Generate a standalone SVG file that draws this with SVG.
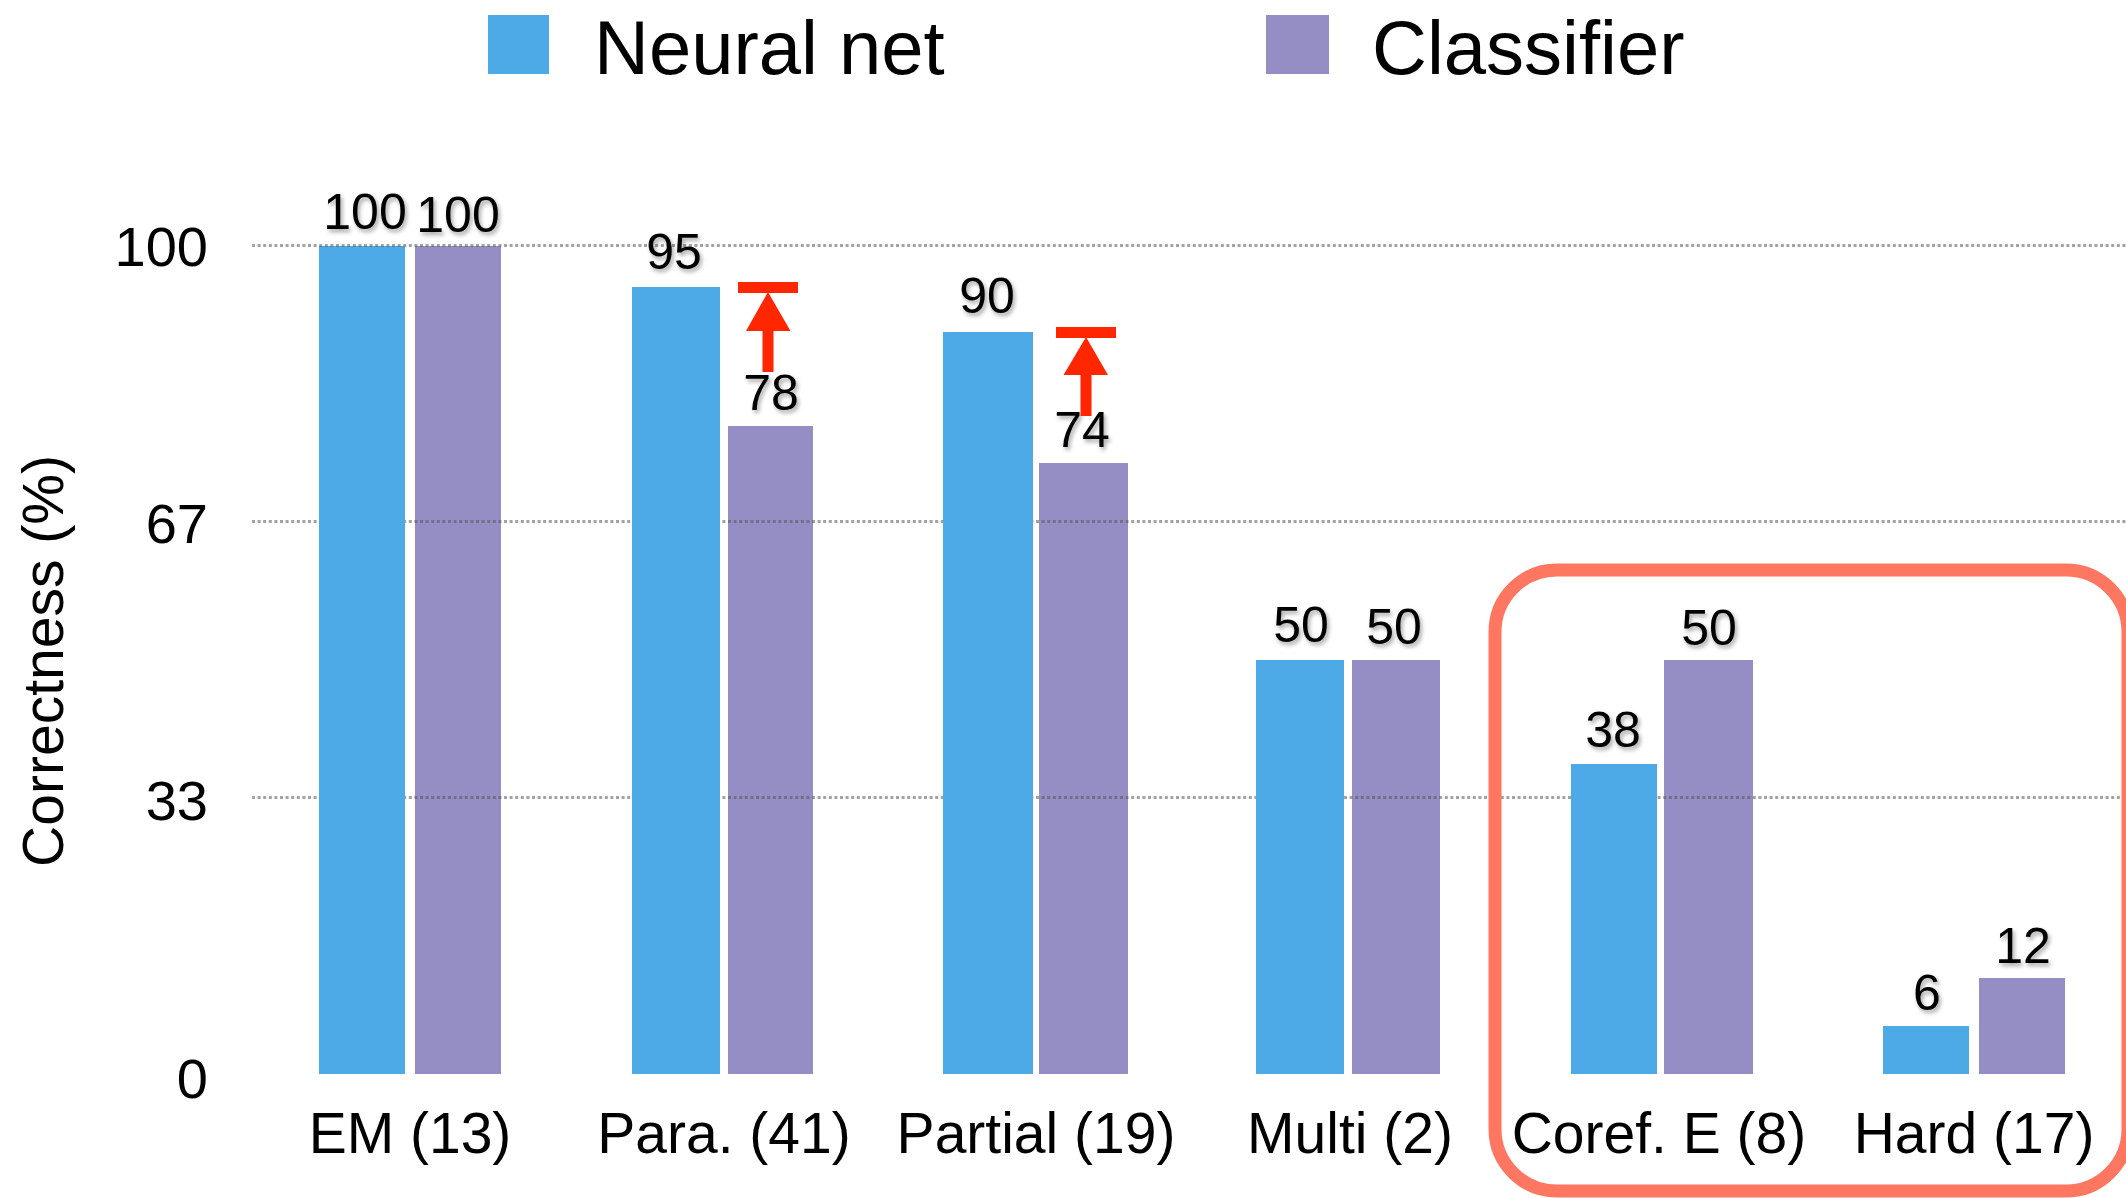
<svg xmlns="http://www.w3.org/2000/svg" width="2126" height="1198" viewBox="0 0 2126 1198">
  <style>
    .nn { fill: #4EAAE6; }
    .cl { fill: #958EC5; }
    .grid { stroke: #555; stroke-opacity: 0.55; stroke-width: 3; stroke-dasharray: 3 2.6; fill: none; }
    .txt { font-family: "Liberation Sans", Arial, sans-serif; fill: #000; }
    .tick { font-size: 56px; text-anchor: end; }
    .cat { font-size: 57px; text-anchor: middle; }
    .val { font-size: 50px; text-anchor: middle; filter: url(#shadow); }
    .leg { font-size: 76px; }
    .red { fill: #FF2600; }
  </style>
  <defs>
    <filter id="shadow" x="-30%" y="-30%" width="160%" height="160%">
      <feDropShadow dx="2" dy="3" stdDeviation="2" flood-color="#000" flood-opacity="0.35"/>
    </filter>
  </defs>
  <rect width="2126" height="1198" fill="#fff"/>

  <g id="legend">
    <rect class="nn" x="488" y="15" width="61" height="59"/>
    <text class="txt leg" x="594" y="74">Neural net</text>
    <rect class="cl" x="1266" y="15" width="63" height="59"/>
    <text class="txt leg" x="1372" y="74">Classifier</text>
  </g>

  <g id="y-axis">
    <text class="txt" font-size="57" text-anchor="middle" transform="translate(63,661) rotate(-90)">Correctness (%)</text>
    <text class="txt tick" x="208" y="266">100</text>
    <text class="txt tick" x="208" y="543">67</text>
    <text class="txt tick" x="208" y="820">33</text>
    <text class="txt tick" x="208" y="1098">0</text>
  </g>

  <g id="bars-nn">
    <rect class="nn" x="319" y="246" width="86" height="828"/>
    <rect class="nn" x="632" y="287" width="88" height="787"/>
    <rect class="nn" x="943" y="332" width="90" height="742"/>
    <rect class="nn" x="1256" y="660" width="88" height="414"/>
    <rect class="nn" x="1571" y="764" width="86" height="310"/>
    <rect class="nn" x="1883" y="1026" width="86" height="48"/>
  </g>
  <g id="bars-cl">
    <rect class="cl" x="415" y="246" width="86" height="828"/>
    <rect class="cl" x="728" y="426" width="85" height="648"/>
    <rect class="cl" x="1039" y="463" width="89" height="611"/>
    <rect class="cl" x="1352" y="660" width="88" height="414"/>
    <rect class="cl" x="1664" y="660" width="89" height="414"/>
    <rect class="cl" x="1979" y="978" width="86" height="96"/>
  </g>

  <g id="gridlines">
    <line class="grid" x1="252" y1="245.5" x2="2126" y2="245.5"/>
    <line class="grid" x1="252" y1="521.5" x2="2126" y2="521.5"/>
    <line class="grid" x1="252" y1="797.5" x2="2126" y2="797.5"/>
  </g>

  <g id="nn-front">
    <rect class="nn" x="319" y="247" width="86" height="827"/>
    <rect class="nn" x="632" y="287" width="88" height="787"/>
    <rect class="nn" x="943" y="332" width="90" height="742"/>
    <rect class="nn" x="1256" y="660" width="88" height="414"/>
    <rect class="nn" x="1571" y="764" width="86" height="310"/>
  </g>

  <g id="values">
    <text class="txt val" x="365" y="229">100</text>
    <text class="txt val" x="458" y="232">100</text>
    <text class="txt val" x="674" y="269">95</text>
    <text class="txt val" x="771" y="410">78</text>
    <text class="txt val" x="987" y="313">90</text>
    <text class="txt val" x="1082" y="447">74</text>
    <text class="txt val" x="1301" y="642">50</text>
    <text class="txt val" x="1394" y="644">50</text>
    <text class="txt val" x="1613" y="747">38</text>
    <text class="txt val" x="1709" y="645">50</text>
    <text class="txt val" x="1927" y="1010">6</text>
    <text class="txt val" x="2023" y="963">12</text>
  </g>

  <g id="categories">
    <text class="txt cat" x="410" y="1153">EM (13)</text>
    <text class="txt cat" x="724" y="1153">Para. (41)</text>
    <text class="txt cat" x="1036" y="1153">Partial (19)</text>
    <text class="txt cat" x="1350" y="1153">Multi (2)</text>
    <text class="txt cat" x="1659" y="1153">Coref. E (8)</text>
    <text class="txt cat" x="1974" y="1153">Hard (17)</text>
  </g>

  <g id="arrow-para">
    <rect class="red" x="738" y="282" width="60" height="11"/>
    <polygon class="red" points="768,292 746,331 790.5,331"/>
    <rect class="red" x="762.5" y="329" width="11" height="43"/>
  </g>
  <g id="arrow-partial">
    <rect class="red" x="1056" y="327" width="60" height="11"/>
    <polygon class="red" points="1086,337 1063.5,375 1108,375"/>
    <rect class="red" x="1080.5" y="373" width="11" height="43"/>
  </g>

  <g id="highlight">
    <rect x="1495" y="570" width="633" height="621" rx="62" ry="62" fill="none" stroke="#FF7661" stroke-width="13"/>
  </g>
</svg>
